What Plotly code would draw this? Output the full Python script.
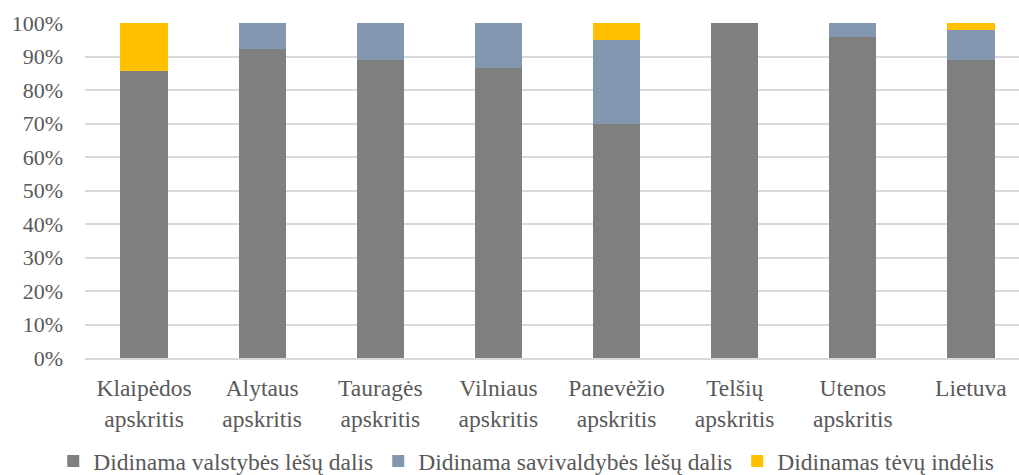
import plotly.graph_objects as go

# Regions (two-line tick labels) and shares of each funding source, %
categories = [
    "Klaipėdos<br>apskritis", "Alytaus<br>apskritis", "Tauragės<br>apskritis",
    "Vilniaus<br>apskritis", "Panevėžio<br>apskritis", "Telšių<br>apskritis",
    "Utenos<br>apskritis", "Lietuva",
]
valstybes = [85.8, 92.3, 88.9, 86.5, 70.0, 100.0, 95.7, 89.1]
savivaldybes = [0.0, 7.7, 11.1, 13.5, 25.0, 0.0, 4.3, 8.7]
tevu = [14.2, 0.0, 0.0, 0.0, 5.0, 0.0, 0.0, 2.2]

series_names = [
    "Didinama valstybės lėšų dalis",
    "Didinama savivaldybės lėšų dalis",
    "Didinamas tėvų indėlis",
]
series_colors = ["#7f7f7f", "#8497b0", "#ffc000"]

FONT = "Liberation Serif"
TEXT = "#595959"

fig = go.Figure()
for name, vals, col in zip(series_names, [valstybes, savivaldybes, tevu], series_colors):
    fig.add_trace(go.Bar(
        x=list(range(len(categories))), y=vals, name=name,
        marker=dict(color=col, line=dict(width=0)),
    ))

fig.update_layout(
    barmode="stack",
    bargap=0.6,
    width=1019, height=475,
    margin=dict(l=85, r=0, t=23, b=117, autoexpand=False),
    plot_bgcolor="white", paper_bgcolor="white",
    font=dict(family=FONT, color=TEXT, size=22),
    legend=dict(
        orientation="h", traceorder="normal",
        x=-0.034, xanchor="left",
        y=-0.308, yanchor="middle",
        font=dict(family=FONT, size=23.5, color=TEXT),
        itemwidth=30,
    ),
    xaxis=dict(
        tickmode="array", tickvals=list(range(len(categories))), ticktext=categories,
        range=[-0.5, 7.407],
        showgrid=False, showline=True, linecolor="#d9d9d9", linewidth=1.5,
        ticks="", tickfont=dict(family=FONT, size=23.5, color=TEXT),
        ticklabelstandoff=8,
    ),
    yaxis=dict(
        range=[0, 100], dtick=10, ticksuffix="%",
        showgrid=True, gridcolor="#d9d9d9", gridwidth=1.5,
        zeroline=False, ticks="",
        tickfont=dict(family=FONT, size=22, color=TEXT),
        ticklabelstandoff=21,
    ),
)

fig.write_html("out.html")
